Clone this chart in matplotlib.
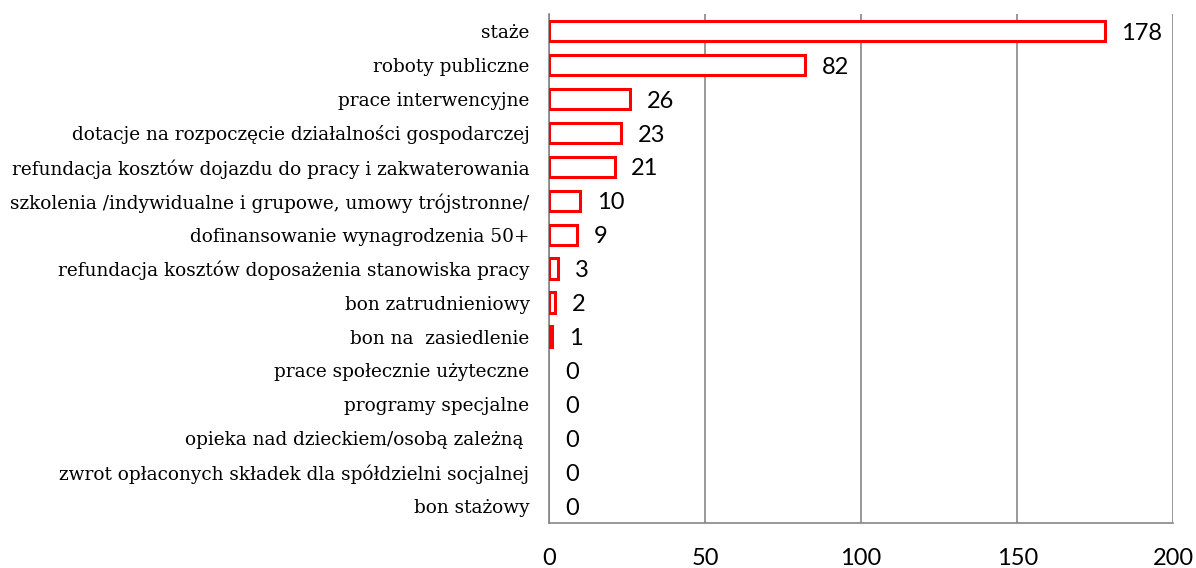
import matplotlib.pyplot as plt

# Categories (top to bottom) and their counts
categories = [
    "staże",
    "roboty publiczne",
    "prace interwencyjne",
    "dotacje na rozpoczęcie działalności gospodarczej",
    "refundacja kosztów dojazdu do pracy i zakwaterowania",
    "szkolenia /indywidualne i grupowe, umowy trójstronne/",
    "dofinansowanie wynagrodzenia 50+",
    "refundacja kosztów doposażenia stanowiska pracy",
    "bon zatrudnieniowy",
    "bon na  zasiedlenie",
    "prace społecznie użyteczne",
    "programy specjalne",
    "opieka nad dzieckiem/osobą zależną ",
    "zwrot opłaconych składek dla spółdzielni socjalnej",
    "bon stażowy",
]
values = [178, 82, 26, 23, 21, 10, 9, 3, 2, 1, 0, 0, 0, 0, 0]
xticks = [0, 50, 100, 150, 200]

fig = plt.figure(figsize=(11.96, 5.68), dpi=100)
ax = fig.add_axes([0.459, 0.079, 0.522, 0.896])

ypos = list(range(len(categories)))
# empty bars (value 0) are not drawn with an outline
edges = ["#ff0000" if v > 0 else "none" for v in values]
ax.barh(ypos, values, height=0.6, color="white", edgecolor=edges, linewidth=2.2, zorder=3)

for y, v in zip(ypos, values):
    ax.annotate(str(v), (v, y), xytext=(12, -1.5), textcoords="offset points",
                va="center", ha="left", fontsize=17, family="Lato")

ax.set_xlim(0, 200)
ax.set_ylim(len(categories) - 0.5, -0.5)
ax.set_yticks(ypos)
ax.set_yticklabels(categories, family="DejaVu Serif", fontsize=13.3)
ax.set_xticks(xticks)
ax.set_xticklabels([str(t) for t in xticks], family="Lato", fontsize=17)
ax.tick_params(axis="both", length=0)
ax.tick_params(axis="x", pad=18)
ax.tick_params(axis="y", pad=14)

ax.grid(axis="x", color="#868686", linewidth=1.2, zorder=0)
for side in ["top", "right"]:
    ax.spines[side].set_visible(False)
ax.spines["left"].set_color("#868686")
ax.spines["bottom"].set_color("#868686")
ax.spines["left"].set_linewidth(1.2)
ax.spines["bottom"].set_linewidth(1.2)

fig.savefig("out.png", dpi=100)
